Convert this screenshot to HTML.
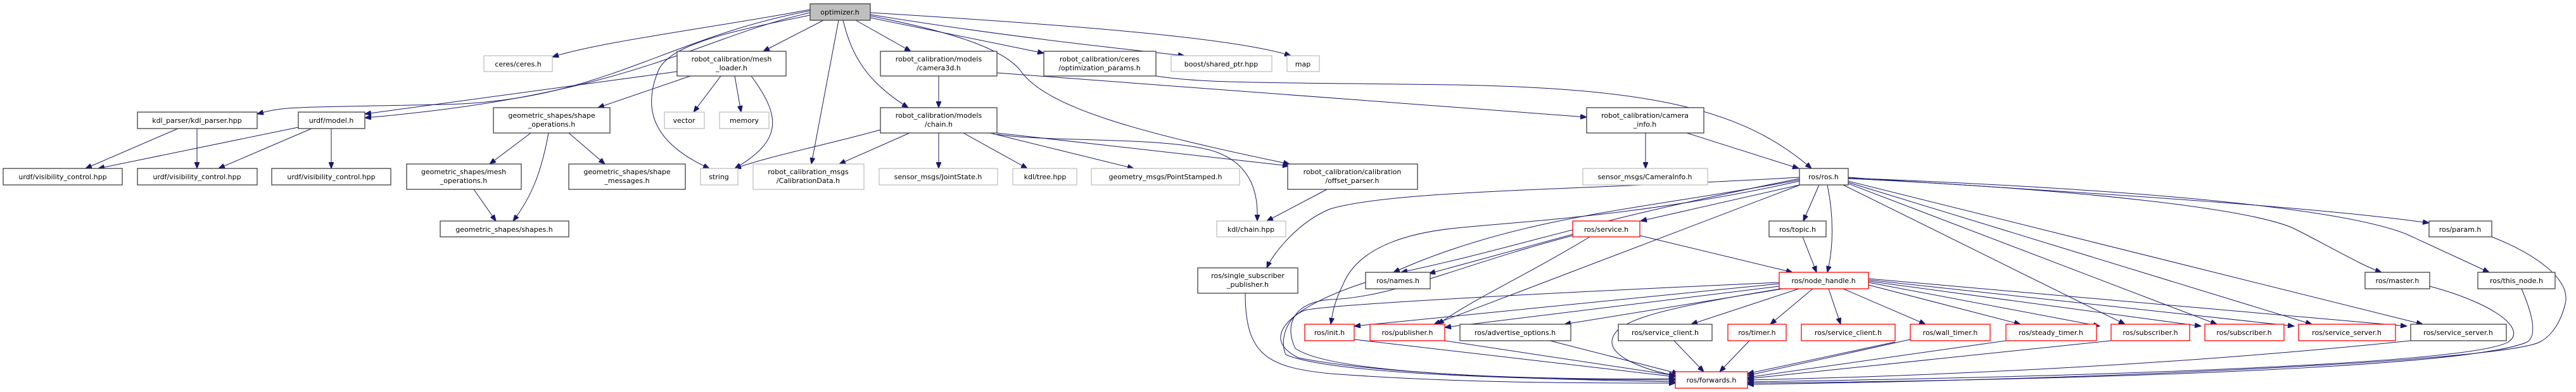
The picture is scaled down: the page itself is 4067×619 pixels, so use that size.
<!DOCTYPE html>
<html><head><meta charset="utf-8"><style>
html,body{margin:0;padding:0;background:#fff;width:4067px;height:619px;overflow:hidden}
svg{display:block}
text{font-family:"DejaVu Sans","Liberation Sans",sans-serif;font-size:11px;fill:#000;text-anchor:middle}
.b{fill:#fff;stroke:#404040;stroke-width:1.3}
.g{fill:#fff;stroke:#bfbfbf;stroke-width:1.3}
.r{fill:#fff;stroke:#ff0000;stroke-width:1.3}
path.e{fill:none;stroke:#191970;stroke-width:1}
</style></head><body>
<svg width="4067" height="619" viewBox="0 0 4067 619" xmlns="http://www.w3.org/2000/svg">
<defs><marker id="a" markerWidth="11" markerHeight="8" refX="10" refY="4" orient="auto" markerUnits="userSpaceOnUse"><path d="M0,0 L10,4 L0,8 z" fill="#191970" stroke="#191970"/></marker></defs>
<g marker-end="url(#a)">
<path class="e" d="M1279,15 C1150,40 950,65 872,90"/>
<path class="e" d="M1279,17 C1050,60 950,160 700,165 S450,168 406,180"/>
<path class="e" d="M1279,20 C1100,60 1000,150 576,186"/>
<path class="e" d="M1069,113 L576,180"/>
<path class="e" d="M1090,120 L944,170"/>
<path class="e" d="M1279,24 C1150,50 1060,70 1040,110 C1010,180 1040,230 1120,266"/>
<path class="e" d="M1300,32 L1205,81"/>
<path class="e" d="M1324,32 L1281,259"/>
<path class="e" d="M1331,32 C1345,90 1370,130 1434,170"/>
<path class="e" d="M1351,32 L1438,81"/>
<path class="e" d="M1374,28 L1648,84"/>
<path class="e" d="M1374,23 C1600,60 1800,80 1870,88"/>
<path class="e" d="M1374,20 C1700,40 1950,60 2038,88"/>
<path class="e" d="M1374,25 C1500,50 1580,75 1610,110 C1650,170 1800,210 2036,259"/>
<path class="e" d="M1825,120 C1900,132 2000,130 2300,134 C2600,140 2750,170 2860,266"/>
<path class="e" d="M1574,115 L2505,185"/>
<path class="e" d="M1482,120 L1482,170"/>
<path class="e" d="M1390,205 C1300,230 1220,245 1160,266"/>
<path class="e" d="M1436,210 L1325,259"/>
<path class="e" d="M1482,210 L1482,266"/>
<path class="e" d="M1521,210 L1622,266"/>
<path class="e" d="M1563,210 L1790,266"/>
<path class="e" d="M1574,210 L2035,262"/>
<path class="e" d="M1574,212 C1650,225 1850,215 1920,240 C1990,265 1985,330 1985,349"/>
<path class="e" d="M1138,120 L1095,177"/>
<path class="e" d="M1160,120 L1170,177"/>
<path class="e" d="M1186,120 C1230,180 1240,220 1160,266"/>
<path class="e" d="M838,210 L773,259"/>
<path class="e" d="M898,210 L955,259"/>
<path class="e" d="M866,210 C855,270 840,310 810,349"/>
<path class="e" d="M748,299 L783,349"/>
<path class="e" d="M281,203 L135,266"/>
<path class="e" d="M311,203 L311,266"/>
<path class="e" d="M471,201 L155,266"/>
<path class="e" d="M492,203 L345,266"/>
<path class="e" d="M523,203 L523,266"/>
<path class="e" d="M2095,299 L2000,349"/>
<path class="e" d="M2598,210 L2598,266"/>
<path class="e" d="M2663,210 L2840,266"/>
<path class="e" d="M2841,280 C2500,300 2200,300 2100,330 C2050,350 2010,400 2000,423"/>
<path class="e" d="M2841,284 C2600,330 2400,340 2200,430"/>
<path class="e" d="M2841,282 C2500,350 2400,390 2212,430"/>
<path class="e" d="M2850,290 L2590,349"/>
<path class="e" d="M2842,292 L2264,512"/>
<path class="e" d="M2841,286 C2600,340 2400,350 2300,360 C2200,370 2140,400 2120,450 C2105,480 2103,500 2101,512"/>
<path class="e" d="M2872,292 L2847,349"/>
<path class="e" d="M2885,292 C2895,340 2895,390 2885,430"/>
<path class="e" d="M2918,280 C3200,300 3600,320 3835,352"/>
<path class="e" d="M2918,282 C3300,300 3550,330 3620,360 C3680,390 3730,420 3760,430"/>
<path class="e" d="M2918,281 C3400,300 3700,330 3800,370 L3930,430"/>
<path class="e" d="M2910,292 L3355,512"/>
<path class="e" d="M2918,290 L3500,512"/>
<path class="e" d="M2918,288 L3650,512"/>
<path class="e" d="M2918,286 L3825,512"/>
<path class="e" d="M2483,370 L2256,432"/>
<path class="e" d="M2510,374 C2400,440 2330,470 2270,512"/>
<path class="e" d="M2483,372 C2300,420 2200,470 2100,473 C2035,478 2030,520 2045,550 C2100,590 2400,600 2645,598"/>
<path class="e" d="M2589,372 L2830,430"/>
<path class="e" d="M2846,374 L2868,430"/>
<path class="e" d="M2809,448 L2138,515"/>
<path class="e" d="M2809,452 L2281,517"/>
<path class="e" d="M2815,456 L2470,512"/>
<path class="e" d="M2840,456 L2670,512"/>
<path class="e" d="M2862,456 L2795,512"/>
<path class="e" d="M2887,456 L2906,512"/>
<path class="e" d="M2812,456 C2600,490 2545,510 2545,540 C2545,565 2600,585 2645,593"/>
<path class="e" d="M2809,446 C2500,460 2100,480 2060,490 C2030,500 2020,540 2030,560 C2100,590 2400,600 2645,600"/>
<path class="e" d="M2910,456 L3040,512"/>
<path class="e" d="M2950,450 L3190,512"/>
<path class="e" d="M2950,446 L3315,515"/>
<path class="e" d="M2950,444 L3475,515"/>
<path class="e" d="M2950,442 L3622,515"/>
<path class="e" d="M2950,440 L3800,515"/>
<path class="e" d="M2156,446 C2050,480 1980,530 2050,565 C2200,595 2500,600 2645,603"/>
<path class="e" d="M1966,463 C1966,560 2000,580 2100,590 C2300,605 2500,605 2645,605"/>
<path class="e" d="M2138,536 L2645,595"/>
<path class="e" d="M2281,538 L2645,593"/>
<path class="e" d="M2447,538 L2650,590"/>
<path class="e" d="M2643,538 L2690,587"/>
<path class="e" d="M2762,538 L2715,587"/>
<path class="e" d="M2992,540 L2759,590"/>
<path class="e" d="M3016,536 L2759,593"/>
<path class="e" d="M3167,538 L2759,596"/>
<path class="e" d="M3333,538 L2759,598"/>
<path class="e" d="M3806,538 C3400,580 3000,595 2759,600"/>
<path class="e" d="M3836,452 C3940,480 3990,520 3960,540 C3900,575 3300,595 2759,603"/>
<path class="e" d="M3981,456 C4000,500 4005,530 3990,540 C3900,580 3300,600 2759,605"/>
<path class="e" d="M3934,374 C4000,400 4060,440 4050,480 C4040,520 4020,535 4010,540 C3950,570 3300,600 2759,607"/>
</g>

<rect x="1279" y="6" width="95" height="26" fill="#bfbfbf" stroke="#404040" stroke-width="1.3"/><text x="1326" y="23">optimizer.h</text>
<rect class="g" x="764" y="88" width="108" height="25"/><text x="818" y="105">ceres/ceres.h</text>
<rect class="b" x="217" y="177" width="189" height="26"/><text x="311" y="194">kdl_parser/kdl_parser.hpp</text>
<rect class="b" x="471" y="177" width="105" height="26"/><text x="523" y="194">urdf/model.h</text>
<rect class="b" x="779" y="170" width="184" height="40"/><text x="871" y="186">geometric_shapes/shape</text><text x="871" y="200">_operations.h</text>
<rect class="b" x="5" y="266" width="188" height="26"/><text x="99" y="283">urdf/visibility_control.hpp</text>
<rect class="b" x="217" y="266" width="189" height="26"/><text x="311" y="283">urdf/visibility_control.hpp</text>
<rect class="b" x="429" y="266" width="188" height="26"/><text x="523" y="283">urdf/visibility_control.hpp</text>
<rect class="b" x="642" y="259" width="181" height="40"/><text x="732" y="275">geometric_shapes/mesh</text><text x="732" y="289">_operations.h</text>
<rect class="b" x="898" y="259" width="184" height="40"/><text x="990" y="275">geometric_shapes/shape</text><text x="990" y="289">_messages.h</text>
<rect class="b" x="695" y="349" width="203" height="25"/><text x="796" y="366">geometric_shapes/shapes.h</text>
<rect class="b" x="1069" y="81" width="172" height="39"/><text x="1155" y="97">robot_calibration/mesh</text><text x="1155" y="111">_loader.h</text>
<rect class="g" x="1049" y="177" width="63" height="26"/><text x="1080" y="194">vector</text>
<rect class="g" x="1136" y="177" width="78" height="26"/><text x="1175" y="194">memory</text>
<rect class="g" x="1106" y="266" width="59" height="26"/><text x="1135" y="283">string</text>
<rect class="g" x="1189" y="259" width="175" height="40"/><text x="1276" y="275">robot_calibration_msgs</text><text x="1276" y="289">/CalibrationData.h</text>
<rect class="b" x="1390" y="81" width="184" height="39"/><text x="1482" y="97">robot_calibration/models</text><text x="1482" y="111">/camera3d.h</text>
<rect class="b" x="1390" y="170" width="184" height="40"/><text x="1482" y="186">robot_calibration/models</text><text x="1482" y="200">/chain.h</text>
<rect class="b" x="1648" y="81" width="177" height="39"/><text x="1736" y="97">robot_calibration/ceres</text><text x="1736" y="111">/optimization_params.h</text>
<rect class="g" x="1849" y="88" width="159" height="25"/><text x="1928" y="105">boost/shared_ptr.hpp</text>
<rect class="g" x="1388" y="266" width="187" height="26"/><text x="1481" y="283">sensor_msgs/JointState.h</text>
<rect class="g" x="1599" y="266" width="101" height="26"/><text x="1650" y="283">kdl/tree.hpp</text>
<rect class="g" x="1723" y="266" width="234" height="26"/><text x="1840" y="283">geometry_msgs/PointStamped.h</text>
<rect class="g" x="1921" y="349" width="109" height="25"/><text x="1975" y="366">kdl/chain.hpp</text>
<rect class="b" x="1891" y="423" width="158" height="40"/><text x="1970" y="439">ros/single_subscriber</text><text x="1970" y="453">_publisher.h</text>
<rect class="g" x="2032" y="88" width="51" height="25"/><text x="2057" y="105">map</text>
<rect class="b" x="2505" y="170" width="185" height="40"/><text x="2597" y="186">robot_calibration/camera</text><text x="2597" y="200">_info.h</text>
<rect class="b" x="2033" y="259" width="205" height="40"/><text x="2135" y="275">robot_calibration/calibration</text><text x="2135" y="289">/offset_parser.h</text>
<rect class="g" x="2499" y="266" width="197" height="26"/><text x="2597" y="283">sensor_msgs/CameraInfo.h</text>
<rect class="b" x="2841" y="266" width="77" height="26"/><text x="2879" y="283">ros/ros.h</text>
<rect class="r" x="2483" y="349" width="106" height="25"/><text x="2536" y="366">ros/service.h</text>
<rect class="b" x="2793" y="349" width="90" height="25"/><text x="2838" y="366">ros/topic.h</text>
<rect class="b" x="2156" y="430" width="102" height="26"/><text x="2207" y="447">ros/names.h</text>
<rect class="r" x="2809" y="430" width="141" height="26"/><text x="2879" y="447">ros/node_handle.h</text>
<rect class="r" x="2060" y="512" width="78" height="26"/><text x="2099" y="529">ros/init.h</text>
<rect class="r" x="2163" y="512" width="118" height="26"/><text x="2222" y="529">ros/publisher.h</text>
<rect class="b" x="2305" y="512" width="175" height="26"/><text x="2392" y="529">ros/advertise_options.h</text>
<rect class="b" x="2555" y="512" width="148" height="26"/><text x="2629" y="529">ros/service_client.h</text>
<rect class="r" x="2728" y="512" width="92" height="26"/><text x="2774" y="529">ros/timer.h</text>
<rect class="r" x="2844" y="512" width="148" height="26"/><text x="2918" y="529">ros/service_client.h</text>
<rect class="r" x="3016" y="512" width="126" height="26"/><text x="3079" y="529">ros/wall_timer.h</text>
<rect class="r" x="3167" y="512" width="143" height="26"/><text x="3238" y="529">ros/steady_timer.h</text>
<rect class="r" x="3333" y="512" width="124" height="26"/><text x="3395" y="529">ros/subscriber.h</text>
<rect class="r" x="3481" y="512" width="125" height="26"/><text x="3543" y="529">ros/subscriber.h</text>
<rect class="r" x="3629" y="512" width="153" height="26"/><text x="3705" y="529">ros/service_server.h</text>
<rect class="b" x="3806" y="512" width="151" height="26"/><text x="3881" y="529">ros/service_server.h</text>
<rect class="b" x="3835" y="349" width="99" height="25"/><text x="3884" y="366">ros/param.h</text>
<rect class="b" x="3734" y="430" width="102" height="26"/><text x="3785" y="447">ros/master.h</text>
<rect class="b" x="3912" y="430" width="122" height="26"/><text x="3973" y="447">ros/this_node.h</text>
<rect class="r" x="2645" y="587" width="114" height="26"/><text x="2702" y="604">ros/forwards.h</text>
</svg>
</body></html>
